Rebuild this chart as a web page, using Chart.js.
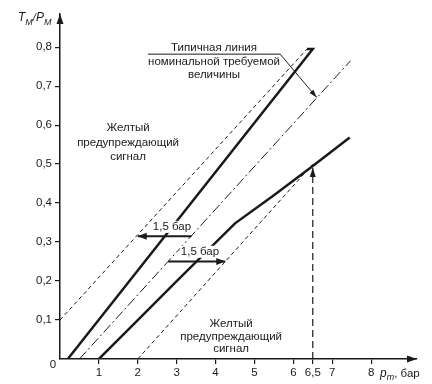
<!DOCTYPE html>
<html>
<head>
<meta charset="utf-8">
<script src="https://cdn.jsdelivr.net/npm/chart.js@4.4.1/dist/chart.umd.min.js"></script>
<style>
  html, body { margin: 0; padding: 0; background: #fff; }
  canvas { display: block; }
</style>
</head>
<body>
<canvas id="chart" width="432" height="384"></canvas>
<script>
// Tick labels
const X_TICKS = [1, 2, 3, 4, 5, 6, 6.5, 7, 8];
const Y_TICKS = [0.1, 0.2, 0.3, 0.4, 0.5, 0.6, 0.7, 0.8];

// Upper boundary (thin dashed, shifted 1.5 bar left of nominal)
const upperBoundX = [0, 6.35];
const upperBoundY = [0.1, 0.795];

// Upper thick curve (with small hook at top)
const upperCurveX = [0.2, 6.5, 6.35];
const upperCurveY = [0, 0.795, 0.795];

// Typical nominal line (dash-dot)
const nominalX = [0.5, 7.47];
const nominalY = [0, 0.765];

// Lower thick curve
const lowerCurveX = [1.0, 2.0, 3.0, 4.5, 5.5, 6.5, 7.45];
const lowerCurveY = [0, 0.1, 0.2, 0.348, 0.42, 0.495, 0.568];

// Lower boundary (thin dashed, shifted 1.5 bar right of nominal)
const lowerBoundX = [2.0, 6.5];
const lowerBoundY = [0, 0.5];

// Vertical marker at 6,5 bar
const markerX = [6.5, 6.5];
const markerY = [0, 0.49];

// "1,5 бар" arrows
const shiftLeftX = [3.38, 2.0];
const shiftLeftY = [0.315, 0.315];
const shiftRightX = [2.78, 4.25];
const shiftRightY = [0.25, 0.25];

// Leader from the label to the nominal line
const leaderX = [2.26, 5.66, 6.6];
const leaderY = [0.782, 0.782, 0.671];

const INK = '#1a1a1a';
const FONT = '"Liberation Sans", Arial, sans-serif';

function pts(xs, ys) {
  return xs.map((x, i) => ({ x, y: ys[i] }));
}

function line(xs, ys, width, dash) {
  return {
    data: pts(xs, ys),
    showLine: true,
    borderColor: INK,
    borderWidth: width,
    borderDash: dash || [],
    pointRadius: 0,
    fill: false,
    tension: 0
  };
}

function arrowHead(ctx, fx, fy, tx, ty, len, half) {
  const a = Math.atan2(ty - fy, tx - fx);
  ctx.beginPath();
  ctx.moveTo(tx, ty);
  ctx.lineTo(tx - len * Math.cos(a) + half * Math.sin(a), ty - len * Math.sin(a) - half * Math.cos(a));
  ctx.lineTo(tx - len * Math.cos(a) - half * Math.sin(a), ty - len * Math.sin(a) + half * Math.cos(a));
  ctx.closePath();
  ctx.fill();
}

const annotations = {
  id: 'annotations',
  afterDatasetsDraw(chart) {
    const { ctx, chartArea: area, scales: { x, y } } = chart;
    const px = (v) => x.getPixelForValue(v);
    const py = (v) => y.getPixelForValue(v);
    ctx.save();
    ctx.fillStyle = INK;

    // arrowheads on the marks
    const tip = (xs, ys, len, half) => {
      const n = xs.length;
      arrowHead(ctx, px(xs[n - 2]), py(ys[n - 2]), px(xs[n - 1]), py(ys[n - 1]), len, half);
    };
    tip(markerX, markerY, 9, 3);
    tip(leaderX, leaderY, 8, 2.5);
    tip(shiftLeftX, shiftLeftY, 9, 3.5);
    tip(shiftRightX, shiftRightY, 9, 3.5);

    // axis arrows
    arrowHead(ctx, area.left, area.top + 20, area.left, area.top, 10, 3.5);
    arrowHead(ctx, area.right - 20, area.bottom, area.right, area.bottom, 10, 3.5);

    // text blocks
    ctx.font = '11.5px ' + FONT;
    ctx.textAlign = 'center';
    ctx.textBaseline = 'middle';

    const block = (cx, cy, text) => {
      const w = ctx.measureText(text).width;
      ctx.fillStyle = '#fff';
      ctx.fillRect(px(cx) - w / 2 - 1, py(cy) - 6, w + 2, 12);
      ctx.fillStyle = INK;
      ctx.fillText(text, px(cx), py(cy));
    };
    block(2.88, 0.339, '1,5 бар');
    block(3.6, 0.275, '1,5 бар');

    const rows = (cx, cys, lines) => {
      lines.forEach((t, i) => ctx.fillText(t, px(cx), py(cys[i])));
    };
    rows(1.75, [0.593, 0.555, 0.519], ['Желтый', 'предупреждающий', 'сигнал']);
    rows(4.4, [0.09, 0.058, 0.026], ['Желтый', 'предупреждающий', 'сигнал']);
    rows(3.96, [0.798, 0.763, 0.729], ['Типичная линия', 'номинальной требуемой', 'величины']);

    // origin label
    ctx.font = '11.5px ' + FONT;
    ctx.fillText('0', area.left - 7, area.bottom + 6);

    // axis titles with subscripts
    const run = (sx, by, parts) => {
      ctx.textAlign = 'left';
      ctx.textBaseline = 'alphabetic';
      let cur = sx;
      parts.forEach(([t, style, dy]) => {
        ctx.font = style + FONT;
        ctx.fillText(t, cur, by + dy);
        cur += ctx.measureText(t).width;
      });
    };
    run(18, 21, [['T', 'italic 12px ', 0], ['M', 'italic 9px ', 4], ['/', 'italic 11px ', 0],
                 ['P', 'italic 12px ', 0], ['M', 'italic 9px ', 4]]);
    run(380, 377, [['p', 'italic 12px ', 0], ['m', 'italic 9px ', 3], [', бар', '11.5px ', 0]]);

    ctx.restore();
  }
};

new Chart(document.getElementById('chart'), {
  type: 'scatter',
  data: {
    datasets: [
      line(upperBoundX, upperBoundY, 1, [4, 3]),
      line(upperCurveX, upperCurveY, 2.5),
      line(nominalX, nominalY, 1, [10, 3, 2, 3]),
      line(lowerCurveX, lowerCurveY, 2.5),
      line(lowerBoundX, lowerBoundY, 1, [4, 3]),
      line(markerX, markerY, 1.2, [7, 4]),
      line(shiftLeftX, shiftLeftY, 2),
      line(shiftRightX, shiftRightY, 2),
      line(leaderX, leaderY, 1)
    ]
  },
  options: {
    responsive: false,
    animation: false,
    layout: { padding: { left: 0, right: 15, top: 14, bottom: 0 } },
    plugins: { legend: { display: false }, tooltip: { enabled: false } },
    scales: {
      x: {
        type: 'linear',
        min: 0,
        max: 9.18,
        afterBuildTicks: (s) => { s.ticks = X_TICKS.map((v) => ({ value: v })); },
        afterFit: (s) => { s.height = 25; },
        ticks: {
          autoSkip: false,
          maxRotation: 0,
          padding: 2,
          color: INK,
          font: { family: FONT, size: 11.5 },
          callback: (v) => String(v).replace('.', ',')
        },
        grid: { drawOnChartArea: false, tickLength: 5, color: INK, lineWidth: 1.2 },
        border: { color: INK, width: 1.5 }
      },
      y: {
        type: 'linear',
        min: 0,
        max: 0.885,
        afterBuildTicks: (s) => { s.ticks = Y_TICKS.map((v) => ({ value: v })); },
        afterFit: (s) => { s.width = 60; },
        ticks: {
          autoSkip: false,
          padding: 3,
          color: INK,
          font: { family: FONT, size: 11.5 },
          callback: (v) => v.toFixed(1).replace('.', ',')
        },
        grid: { drawOnChartArea: false, tickLength: 5, color: INK, lineWidth: 1.2 },
        border: { color: INK, width: 1.5 }
      }
    }
  },
  plugins: [annotations]
});
</script>
</body>
</html>
